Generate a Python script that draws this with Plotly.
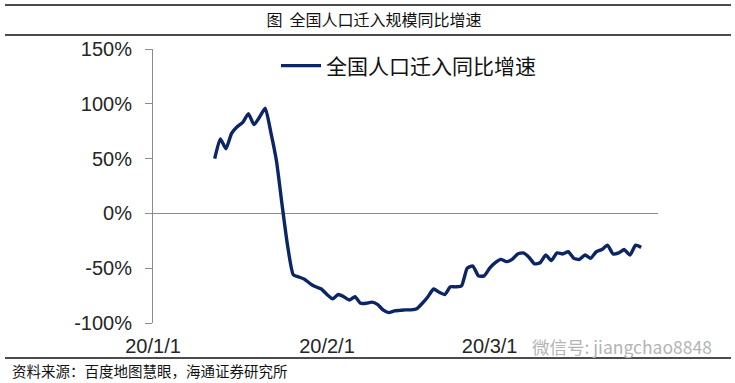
import pandas as pd
import plotly.graph_objects as go

# ---- data ----
series_name = "全国人口迁入同比增速"
start_date = "2020-01-12"
values = [
    50, 68, 59, 73, 79, 83, 91, 81, 88, 96,
    74, 48, 8, -30, -56, -58, -60, -64, -67, -69,
    -74, -78, -74, -76, -79, -76, -82, -82, -81, -83,
    -88, -90.5, -89, -88.5, -88, -88, -87, -82, -76, -69,
    -72, -74, -67, -67, -66, -50, -48, -57, -57, -50,
    -45, -42, -44, -42, -37, -36, -40, -46, -45, -38,
    -43, -36, -37, -35, -41, -42, -38, -41, -35, -33,
    -29, -37, -36, -33, -38, -29, -31,
]
dates = pd.date_range(start_date, periods=len(values), freq="D")

x_tick_vals = ["2020-01-01", "2020-02-01", "2020-03-01"]
x_tick_text = ["20/1/1", "20/2/1", "20/3/1"]
y_tick_vals = [-100, -50, 0, 50, 100, 150]
y_tick_text = ["-100%", "-50%", "0%", "50%", "100%", "150%"]
x_range = ["2020-01-01", "2020-03-31"]
y_range = [-100, 150]

title_text = "图  全国人口迁入规模同比增速"
source_text = "资料来源：百度地图慧眼，海通证券研究所"
watermark_text = "微信号: jiangchao8848"

# ---- figure ----
NAVY = "#0b2565"
GRAY = "#8c8c8c"
TXT = "#262626"
CJK = "Noto Sans CJK SC"
LAT = "Liberation Sans, Arial"

fig = go.Figure()
fig.add_trace(go.Scatter(
    x=dates, y=values, mode="lines", name=series_name,
    line=dict(color=NAVY, width=3.4, shape="spline", smoothing=0.5),
    showlegend=True,
))

W, H = 735, 383
L, R, T, B = 153, 77, 49, 60

fig.update_layout(
    width=W, height=H,
    margin=dict(l=L, r=R, t=T, b=B),
    paper_bgcolor="white", plot_bgcolor="white",
    font=dict(family=LAT, size=20, color=TXT),
    title=dict(text=title_text, x=374 / W, xanchor="center",
               y=1 - 20 / H, yanchor="middle",
               font=dict(family=CJK, size=16, color="#111")),
    showlegend=True,
    legend=dict(x=(276 - L) / (W - L - R), xanchor="left",
                y=(H - B - 66) / (H - T - B), yanchor="middle",
                bgcolor="rgba(0,0,0,0)", borderwidth=0,
                font=dict(family=CJK, size=21, color="#111"),
                itemwidth=40, tracegroupgap=0),
    xaxis=dict(range=x_range, type="date", tickvals=x_tick_vals,
               ticktext=x_tick_text, showgrid=False, zeroline=False,
               showline=False, ticks="", ticklabelstandoff=9,
               tickfont=dict(family=LAT, size=20, color=TXT)),
    xaxis2=dict(range=x_range, type="date", overlaying="x", anchor="free",
                position=(0 - y_range[0]) / (y_range[1] - y_range[0]),
                side="bottom", tickvals=x_tick_vals, ticks="outside",
                ticklen=6, tickcolor=GRAY, tickwidth=1,
                showticklabels=False, showgrid=False, zeroline=False,
                showline=False),
    yaxis=dict(range=y_range, tickvals=y_tick_vals, ticktext=y_tick_text,
               showgrid=False, showline=True, linecolor=GRAY, linewidth=1,
               ticks="outside", ticklen=7, tickcolor=GRAY,
               ticklabelstandoff=9,
               zeroline=True, zerolinecolor=GRAY, zerolinewidth=1.2,
               tickfont=dict(family=LAT, size=20, color=TXT)),
)

# frame lines (top, under title, bottom)
def px_to_paper_x(px):
    return (px - L) / (W - L - R)

def px_to_paper_y(py):
    return (H - B - py) / (H - T - B)

for py in (5, 35, 358):
    fig.add_shape(type="line", xref="paper", yref="paper",
                  x0=px_to_paper_x(5), x1=px_to_paper_x(731),
                  y0=px_to_paper_y(py), y1=px_to_paper_y(py),
                  line=dict(color="#111", width=1.5))

fig.add_annotation(text=source_text, xref="paper", yref="paper",
                   x=px_to_paper_x(10), y=px_to_paper_y(370),
                   xanchor="left", yanchor="middle", showarrow=False,
                   font=dict(family=CJK, size=14.5, color="#111"))

fig.add_annotation(text=watermark_text, xref="paper", yref="paper",
                   x=px_to_paper_x(530), y=px_to_paper_y(347),
                   xanchor="left", yanchor="middle", showarrow=False,
                   font=dict(family=CJK, size=17.5, color="#b4b4b4"))

fig.write_html(
    "out.html",
    config={"displayModeBar": False},
    post_script="document.body.style.margin='0';document.body.style.padding='0';",
)
